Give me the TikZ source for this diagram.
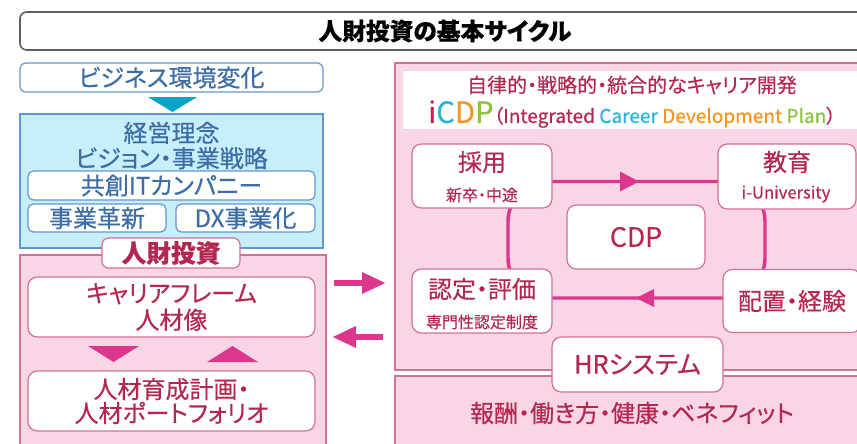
\documentclass[tikz,border=0pt]{standalone}
\usepackage{fontspec}
\setmainfont{Noto Sans CJK JP}[RawFeature=+palt, FakeBold=0.4]
\usetikzlibrary{arrows.meta}

\definecolor{grayln}{RGB}{95,95,95}
\definecolor{blueln}{RGB}{100,150,205}
\definecolor{bluetx}{RGB}{60,110,165}
\definecolor{bluefill}{RGB}{198,238,251}
\definecolor{cyantri}{RGB}{0,165,200}
\definecolor{pinkfill}{RGB}{248,214,230}
\definecolor{pinkln}{RGB}{212,112,148}
\definecolor{redtx}{RGB}{180,40,80}
\definecolor{magarr}{RGB}{220,55,140}
\definecolor{ci}{RGB}{200,30,90}
\definecolor{cc}{RGB}{40,180,215}
\definecolor{cd}{RGB}{245,150,30}
\definecolor{cp}{RGB}{140,195,60}

\newcommand\fsz[2]{\fontsize{#1pt}{#2pt}\selectfont}

\tikzset{
  every node/.style={align=center, inner sep=0pt},
  wh/.style 2 args={minimum width=#1*.75pt, minimum height=#2*.75pt},
  titlebox/.style={draw=grayln, fill=white, line width=1.2pt, rounded corners=5pt},
  bbox/.style={draw=blueln, fill=white, line width=.9pt, rounded corners=4pt, text=bluetx},
  blarea/.style={draw=blueln, fill=bluefill, line width=.9pt},
  pkarea/.style={draw=pinkln, fill=pinkfill, line width=.9pt},
  pbox/.style={draw=pinkln, fill=white, line width=.9pt, rounded corners=7pt, text=redtx},
  ptext/.style={text=redtx},
  loopln/.style={draw=magarr, line width=2.6pt},
  bigarr/.style={draw=magarr, line width=5.2pt, -{Triangle[length=18pt,width=15pt]}},
}

\begin{document}
\begin{tikzpicture}[x=.75pt,y=-.75pt]
\useasboundingbox (0,0) rectangle (857,443);
\clip (0,0) rectangle (857,443);

\node[titlebox, wh={850}{38}, font={\fsz{17.8}{20}\bfseries}] (title) at (445,31) {人財投資の基本サイクル};

% left column
\node[bbox, wh={303}{29}, font={\fsz{18}{19}}] (biz) at (171.5,77.5) {ビジネス環境変化};
\fill[cyantri] (148,97) -- (197,97) -- (172.5,112) -- cycle;
\node[blarea, wh={303}{134}] (strat) at (171.5,181) {};
\node[text=bluetx, font={\fsz{18}{19}}] (vision) at (171.5,145.5) {経営理念\\ビジョン・事業戦略};
\node[bbox, wh={287}{29}, font={\fsz{18}{19}}] (kyoso) at (171.5,185.5) {共創ITカンパニー};
\node[bbox, wh={138}{28}, font={\fsz{18}{19}}] (kakushin) at (97,218) {事業革新};
\node[bbox, wh={139}{28}, font={\fsz{18}{19}}] (dx) at (245.5,218) {DX事業化};

\node[pkarea, wh={306}{205}] (talent) at (173,357.5) {};
\node[pbox, wh={138}{30}, rounded corners=5pt, font={\fsz{18.5}{19}\bfseries}] (invest) at (171,253) {人財投資};
\node[pbox, wh={287}{60}, font={\fsz{18}{20}}] (career) at (171.5,307) {キャリアフレーム\\人材像};
\fill[magarr] (88,346) -- (139,346) -- (113.5,362) -- cycle;
\fill[magarr] (207,362) -- (258,362) -- (232.5,346) -- cycle;
\node[pbox, wh={287}{60}, font={\fsz{18}{18}}] (plan) at (171.5,401) {人材育成計画・\\人材ポートフォリオ};

% arrows between
\coordinate (r0) at (334,283);
\coordinate (r1) at (386,283);
\coordinate (l0) at (383,337);
\coordinate (l1) at (332,337);
\draw[bigarr] (r0) -- (r1);
\draw[bigarr] (l0) -- (l1);

% right column
\node[pkarea, wh={475}{307}] (icdp) at (632.5,216.5) {};
\node[pkarea, wh={475}{94}] (benefit) at (632.5,423) {};
\node[fill=white, wh={462}{58}] (head) at (634,100) {};
\node[ptext, font={\fsz{15}{16}}] (head1) at (632,85) {自律的・戦略的・統合的なキャリア開発};
\node (head2) at (632,114) {{\fsz{22}{22}\textcolor{ci}{i}\textcolor{cc}{C}\textcolor{cd}{D}\textcolor{cp}{P}}{\fsz{14.3}{16}\textcolor{redtx}{（Integrated} \textcolor{cc}{Career} \textcolor{cd}{Development} \textcolor{cp}{Plan}\textcolor{redtx}{）}}};

\draw[loopln, rounded corners=30pt] (508,181.5) rectangle (765,298);
\fill[magarr] (620,171.5) -- (639,181.5) -- (620,191.5) -- cycle;
\fill[magarr] (654,289) -- (636,298) -- (654,307) -- cycle;

\node[pbox, wh={140}{64}] (saiyo) at (482,176) {};
\node[ptext, font={\fsz{18}{19}}] (saiyo-t) at (482,162) {採用};
\node[ptext, font={\fsz{12}{13}}] (saiyo-s) at (482,195) {新卒・中途};
\node[pbox, wh={138}{65}] (kyoiku) at (787,176.5) {};
\node[ptext, font={\fsz{18}{19}}] (kyoiku-t) at (787,162) {教育};
\node[ptext, font={\fsz{12.5}{13}}] (kyoiku-s) at (786,194) {i-University};
\node[pbox, wh={138}{64}, font={\fsz{20}{22}}] (cdp) at (636,237) {CDP};
\node[pbox, wh={140}{64}] (nintei) at (482,301) {};
\node[ptext, font={\fsz{18}{19}}] (nintei-t) at (482,289) {認定・評価};
\node[ptext, font={\fsz{12}{14}}] (nintei-s) at (482,322) {専門性認定制度};
\node[pbox, wh={138}{63}, font={\fsz{18}{19}}] (haichi) at (792,301) {配置・経験};

\node[pbox, wh={171}{55}, font={\fsz{19}{19}}] (hr) at (637.5,364.5) {HRシステム};
\node[ptext, font={\fsz{18}{19}}] (benefit-t) at (632,413) {報酬・働き方・健康・ベネフィット};
\end{tikzpicture}
\end{document}
